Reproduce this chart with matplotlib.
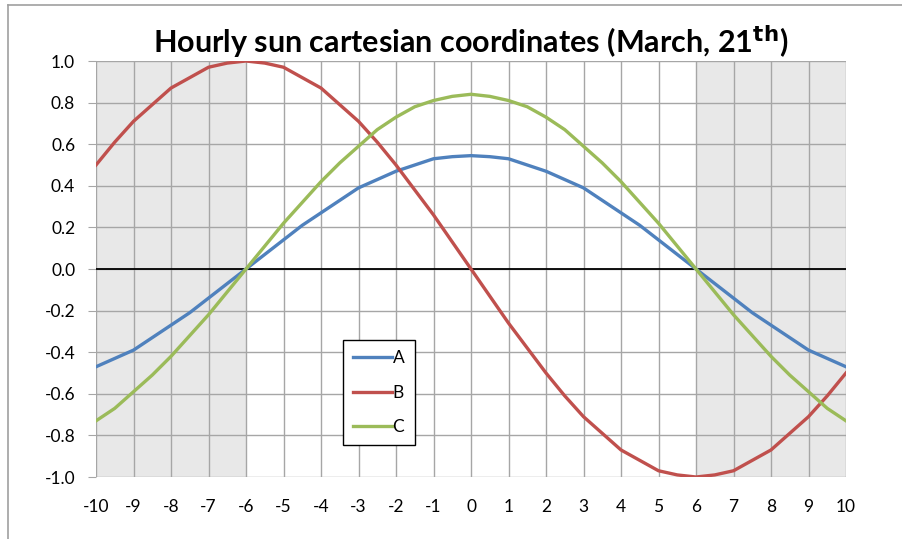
import numpy as np
import matplotlib.pyplot as plt
from matplotlib.lines import Line2D

plt.rcParams['font.family'] = ['Lato', 'DejaVu Sans']

# hours from noon, half-hour steps
hours = [-10, -9.5, -9, -8.5, -8, -7.5, -7, -6.5, -6, -5.5, -5, -4.5, -4, -3.5, -3, -2.5, -2, -1.5, -1, -0.5,
         0, 0.5, 1, 1.5, 2, 2.5, 3, 3.5, 4, 4.5, 5, 5.5, 6, 6.5, 7, 7.5, 8, 8.5, 9, 9.5, 10]

A = [-0.47, -0.43, -0.39, -0.33, -0.27, -0.21, -0.14, -0.07, 0.0, 0.07, 0.14, 0.21, 0.27, 0.33, 0.39, 0.43, 0.47, 0.50, 0.53, 0.54,
     0.545, 0.54, 0.53, 0.50, 0.47, 0.43, 0.39, 0.33, 0.27, 0.21, 0.14, 0.07, 0.0, -0.07, -0.14, -0.21, -0.27, -0.33, -0.39, -0.43, -0.47]

B = [0.5, 0.61, 0.71, 0.79, 0.87, 0.92, 0.97, 0.99, 1.0, 0.99, 0.97, 0.92, 0.87, 0.79, 0.71, 0.61, 0.5, 0.38, 0.26, 0.13,
     0.0, -0.13, -0.26, -0.38, -0.5, -0.61, -0.71, -0.79, -0.87, -0.92, -0.97, -0.99, -1.0, -0.99, -0.97, -0.92, -0.87, -0.79, -0.71, -0.61, -0.5]

C = [-0.73, -0.67, -0.59, -0.51, -0.42, -0.32, -0.22, -0.11, 0.0, 0.11, 0.22, 0.32, 0.42, 0.51, 0.59, 0.67, 0.73, 0.78, 0.81, 0.83,
     0.84, 0.83, 0.81, 0.78, 0.73, 0.67, 0.59, 0.51, 0.42, 0.32, 0.22, 0.11, 0.0, -0.11, -0.22, -0.32, -0.42, -0.51, -0.59, -0.67, -0.73]

night = [(-10, -6), (6, 10)]
xticks = list(range(-10, 11))
yticks = [-1.0, -0.8, -0.6, -0.4, -0.2, 0.0, 0.2, 0.4, 0.6, 0.8, 1.0]

W, H = 902, 539
fig = plt.figure(figsize=(W/100, H/100), dpi=100)
ax = fig.add_axes([96/W, 1-477/H, (846-96)/W, (477-61)/H])

for x0, x1 in night:
    ax.axvspan(x0, x1, color='#e8e8e8', zorder=0, lw=0)

for x in xticks:
    ax.axvline(x, color='#a6a6a6', lw=1, zorder=1)
for y in yticks:
    ax.axhline(y, color='#a6a6a6', lw=1, zorder=1)
ax.axhline(0, color='black', lw=1.3, zorder=2)

ax.plot(hours, A, color='#4f81bd', lw=2.4, label='A', zorder=3)
ax.plot(hours, B, color='#c0504d', lw=2.4, label='B', zorder=3)
ax.plot(hours, C, color='#9bbb59', lw=2.4, label='C', zorder=3)

ax.set_xlim(-10, 10)
ax.set_ylim(-1, 1)
ax.set_xticks(xticks)
ax.set_xticklabels([str(t) for t in xticks])
ax.set_yticks(yticks)
ax.set_yticklabels([f'{t:.1f}' for t in yticks])
ax.tick_params(axis='x', length=0, pad=16, labelsize=12.5)
ax.tick_params(axis='y', length=6, color='#a6a6a6', pad=9, labelsize=12.5)
for s in ax.spines.values():
    s.set_visible(False)

ax.set_title('Hourly sun cartesian coordinates (March, 21$^{\\mathbf{th}}$)',
             fontsize=22, fontweight='bold', pad=6)

leg = ax.legend(loc='upper left', bbox_to_anchor=(343/W, 1-340/H), bbox_transform=fig.transFigure,
                borderaxespad=0, fancybox=False, edgecolor='black', framealpha=1, fontsize=12.5,
                handlelength=2.2, labelspacing=1.05, handletextpad=0.05, borderpad=0.6)
leg.get_frame().set_linewidth(1)

# chart area border (top and left visible)
fig.add_artist(Line2D([8/W, 1], [1-5/H, 1-5/H], color='#a0a0a0', lw=1.2, transform=fig.transFigure))
fig.add_artist(Line2D([8/W, 8/W], [0, 1-5/H], color='#a0a0a0', lw=1.2, transform=fig.transFigure))

plt.savefig('out.png', dpi=100)
